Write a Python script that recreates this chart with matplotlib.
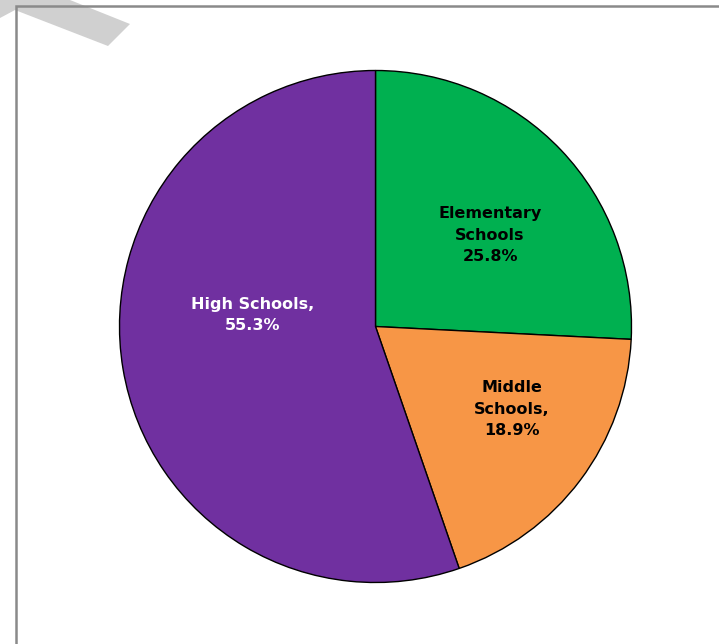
import matplotlib
matplotlib.use("Agg")
import matplotlib.pyplot as plt
from matplotlib.patches import Polygon

categories = ["Elementary\nSchools", "Middle\nSchools,", "High Schools,"]
shares = [25.8, 18.9, 55.3]
colors = ["#00B050", "#F79646", "#7030A0"]
text_colors = ["black", "black", "white"]

W, H = 719, 644
fig = plt.figure(figsize=(W / 100, H / 100), dpi=100)
ax = fig.add_axes([0, 0, 1, 1])

# decorative grey shape top-left
ax.add_patch(Polygon([(0, H), (70, H), (130, H - 24), (108, H - 46), (15, H - 10), (0, H - 18)],
                     closed=True, facecolor="#D0D0D0", edgecolor="none", zorder=1))
# frame
ax.plot([16, 16, W + 5], [-5, H - 6, H - 6], color="#8a8a8a", lw=1.8, zorder=2, solid_joinstyle="miter")

cx, cy, r = 375.5, H - 326.5, 256
wedges, _ = ax.pie(shares, colors=colors, startangle=90, counterclock=False,
                   center=(cx, cy), radius=r, frame=True,
                   wedgeprops=dict(edgecolor="black", linewidth=1.0))
for w in wedges:
    w.set_zorder(3)
ax.set_xlim(0, W)
ax.set_ylim(0, H)
ax.set_aspect("equal")
ax.axis("off")

label_offsets = [(114.5, 91.5), (136.5, -82.5), (-122.5, 11.5)]
for cat, val, (dx, dy), tc in zip(categories, shares, label_offsets, text_colors):
    ax.text(cx + dx, cy + dy, f"{cat}\n{val:.1f}%", ha="center", va="center",
            color=tc, fontsize=11.5, fontweight="bold", linespacing=1.55, zorder=4,
            family=["DejaVu Sans"])

fig.savefig("out.png", dpi=100)
